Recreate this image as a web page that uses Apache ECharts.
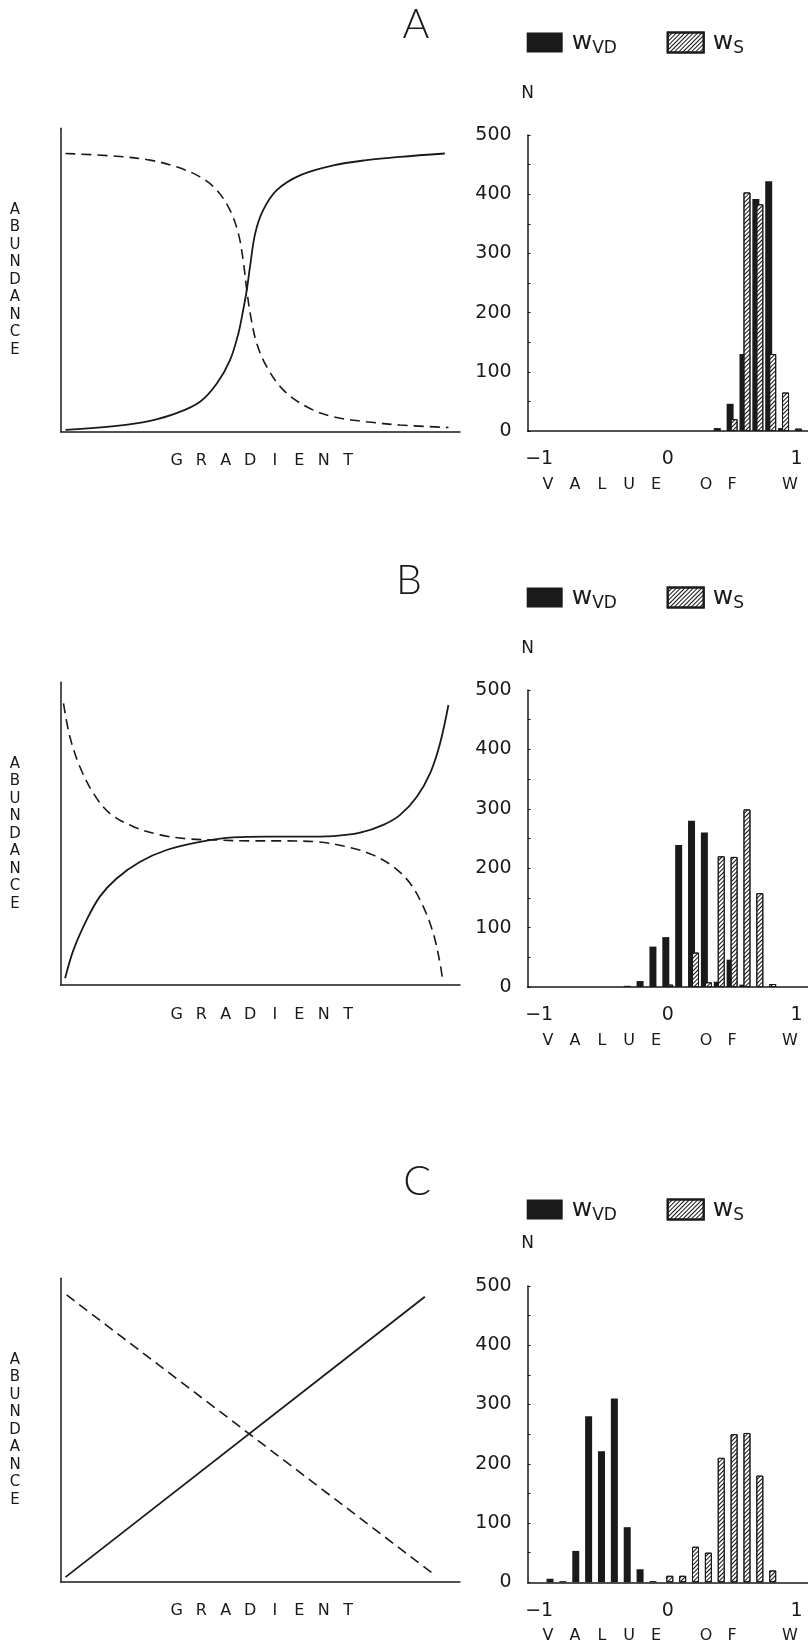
<!DOCTYPE html>
<html>
<head>
<meta charset="utf-8">
<script src="https://cdn.jsdelivr.net/npm/echarts@6/dist/echarts.min.js"></script>
<style>
html,body{margin:0;padding:0;background:#fff;}
#chart{width:808px;height:1651px;}
</style>
</head>
<body>
<div id="chart"></div>
<script>
// ---------------- data ----------------
const panelLabels = ['A', 'B', 'C'];
const legendNames = ['wVD', 'wS'];
const histXTicks = [-1, 0, 1];
const histYTicks = [0, 100, 200, 300, 400, 500];

// left panels: abundance along gradient (gradient 0-100, abundance 0-100)
const aSolid = [[1.2,0.6],[14.0,1.9],[22.4,3.6],[29.0,6.1],[34.9,9.9],[39.1,15.9],[42.4,23.6],[44.5,32.4],[45.7,40.1],[46.6,46.7],[47.4,54.3],[48.7,65.3],[50.7,73.0],[54.1,79.6],[59.9,84.5],[68.3,87.8],[76.6,89.5],[85.0,90.6],[96.2,91.7]];
const aDashed = [[1.2,91.7],[14.0,90.8],[22.4,89.5],[29.0,87.3],[34.9,84.0],[39.1,79.6],[42.4,73.0],[44.5,65.3],[45.7,56.5],[46.6,46.7],[47.6,37.9],[49.1,29.1],[51.6,21.4],[55.8,13.7],[61.6,8.2],[68.3,4.9],[76.6,3.3],[85.0,2.2],[97.1,1.4]];
const bSolid = [[1.1,2.2],[3.2,11.6],[6.5,21.5],[9.8,29.2],[14.0,35.2],[19.9,40.7],[26.5,44.6],[34.9,47.3],[43.2,48.8],[51.6,49.0],[59.9,49.0],[68.3,49.2],[75.0,50.3],[80.8,52.9],[85.0,56.2],[89.2,62.2],[92.5,69.9],[95.0,79.8],[97.1,92.5]];
const bDashed = [[0.7,93.0],[2.3,82.0],[4.8,72.1],[8.2,63.3],[12.3,56.7],[18.2,52.3],[24.9,49.6],[31.6,48.3],[39.1,47.9],[47.4,47.6],[55.7,47.6],[64.1,47.3],[72.5,45.4],[78.3,42.9],[83.3,39.1],[87.5,33.6],[90.8,25.9],[93.3,17.1],[95.0,7.2],[95.7,1.1]];
const cSolid = [[1.2,1.5],[91.2,93.9]];
const cDashed = [[1.5,94.5],[93.7,2.2]];

// right panels: histograms of w, [bin centre, N]
const aVd = [[0.4,5],[0.5,46],[0.6,130],[0.7,392],[0.8,422],[0.9,5]];
const aS  = [[0.5,20],[0.6,403],[0.7,383],[0.8,130],[0.9,65],[1.0,4]];
const bVd = [[-0.3,2],[-0.2,10],[-0.1,68],[0,84],[0.1,239],[0.2,280],[0.3,260],[0.4,9],[0.5,46],[0.6,4]];
const bS  = [[0,4],[0.2,58],[0.3,8],[0.4,220],[0.5,219],[0.6,299],[0.7,158],[0.8,5]];
const cVd = [[-0.9,6],[-0.8,2],[-0.7,53],[-0.6,280],[-0.5,221],[-0.4,310],[-0.3,93],[-0.2,22],[-0.1,2]];
const cS  = [[0,11],[0.1,11],[0.2,60],[0.3,50],[0.4,210],[0.5,250],[0.6,252],[0.7,180],[0.8,20]];

// ---------------- layout ----------------
const FONT = '"DejaVu Sans", sans-serif';
const INK = '#1a1a1a';
const layout = [
  {solid:aSolid, dashed:aDashed, vd:aVd, s:aS, lTop:128.3, lBot:431.7, hTop:135, hBot:431, tx:416, ty:25, legTop:30, nY:94},
  {solid:bSolid, dashed:bDashed, vd:bVd, s:bS, lTop:682.3, lBot:985, hTop:690, hBot:987, tx:409, ty:581, legTop:585, nY:649},
  {solid:cSolid, dashed:cDashed, vd:cVd, s:cS, lTop:1278.3, lBot:1581.7, hTop:1286, hBot:1582.3, tx:417, ty:1182, legTop:1197, nY:1244}
];

const grid = [], xAxis = [], yAxis = [], series = [], legend = [], graphic = [];
const axisLine = {show:true, onZero:false, lineStyle:{color:INK, width:1.5}};
const tickVals = [];
for (let v = 0; v <= 500; v += 50) tickVals.push(v);

const hatch = {
  symbol:'rect', symbolSize:1, color:'#111',
  dashArrayX:[1,0], dashArrayY:[1,2], rotation:-Math.PI/4
};

const valueLetters = 'VALUEOFW'.split('');
const valueLetterX = [548, 575, 602, 629, 656, 706, 732, 790];
const gradLetters = 'GRADIENT'.split('');
const abLetters = 'ABUNDANCE'.split('');

layout.forEach((p, i) => {
  grid.push({left:60.7, top:p.lTop, width:399.3, height:p.lBot - p.lTop});
  grid.push({left:527.6, top:p.hTop, width:281.2, height:p.hBot - p.hTop});

  xAxis.push({gridIndex:2*i, type:'value', min:0, max:100, axisLine, axisTick:{show:false}, axisLabel:{show:false}, splitLine:{show:false}});
  yAxis.push({gridIndex:2*i, type:'value', min:0, max:100, axisLine, axisTick:{show:false}, axisLabel:{show:false}, splitLine:{show:false}});

  xAxis.push({gridIndex:2*i+1, type:'value', min:-1.09, max:1.09, axisLine,
    axisTick:{show:false},
    axisLabel:{customValues:histXTicks, fontFamily:FONT, fontSize:19, color:INK, margin:19,
      formatter:v => (v < 0 ? '\u2212' + Math.abs(v) : String(v))},
    splitLine:{show:false}});
  yAxis.push({gridIndex:2*i+1, type:'value', min:0, max:500, interval:100, axisLine,
    axisTick:{show:true, inside:true, length:3, customValues:tickVals, lineStyle:{color:INK, width:1}},
    axisLabel:{customValues:histYTicks, fontFamily:FONT, fontSize:19, color:INK, margin:16},
    splitLine:{show:false}});

  series.push({type:'line', xAxisIndex:2*i, yAxisIndex:2*i, data:p.solid, symbol:'none', smooth:0.35,
    lineStyle:{color:INK, width:1.8}, silent:true});
  series.push({type:'line', xAxisIndex:2*i, yAxisIndex:2*i, data:p.dashed, symbol:'none', smooth:0.35,
    lineStyle:{color:INK, width:1.6, type:[10,6]}, silent:true});

  series.push({type:'bar', name:'wVD', xAxisIndex:2*i+1, yAxisIndex:2*i+1, data:p.vd,
    barWidth:7, barGap:'-43%', itemStyle:{color:INK}, silent:true});
  series.push({type:'bar', name:'wS', xAxisIndex:2*i+1, yAxisIndex:2*i+1, data:p.s,
    barWidth:7, barGap:'-43%', itemStyle:{color:'#fff', borderColor:INK, borderWidth:1, decal:hatch}, silent:true});

  const legendText = {
    rich:{
      w:{fontFamily:FONT, fontSize:25, color:INK, lineHeight:30, verticalAlign:'middle', padding:[0,0,0,4]},
      s:{fontFamily:FONT, fontSize:17, color:INK, lineHeight:30, verticalAlign:'bottom'}
    }
  };
  legendNames.forEach((nm, k) => {
    legend.push({data:[nm], left:k === 0 ? 526.7 : 666.7, top:p.legTop, padding:0,
      itemWidth:36, itemHeight:20, icon:'rect', selectedMode:false,
      formatter:n => '{w|w}{s|' + (n === 'wVD' ? 'VD' : 'S') + '}',
      textStyle:legendText});
  });

  graphic.push({type:'text', x:p.tx, y:p.ty, style:{text:panelLabels[i], fontFamily:'Lato, "DejaVu Sans", sans-serif', fontWeight:300, fontSize:41, fill:INK, align:'center', verticalAlign:'middle'}});
  graphic.push({type:'text', x:527.5, y:p.nY, style:{text:'N', fontFamily:FONT, fontSize:17, fill:INK, align:'center', verticalAlign:'middle'}});
  valueLetters.forEach((ch, k) => {
    graphic.push({type:'text', x:valueLetterX[k], y:p.hBot + 54, style:{text:ch, fontFamily:FONT, fontSize:16, fill:INK, align:'center', verticalAlign:'middle'}});
  });
  gradLetters.forEach((ch, k) => {
    graphic.push({type:'text', x:262.5 + (k - 3.5) * 24.5, y:p.lBot + 29.5, style:{text:ch, fontFamily:FONT, fontSize:16, fill:INK, align:'center', verticalAlign:'middle'}});
  });
  const mid = (p.lTop + p.lBot) / 2;
  abLetters.forEach((ch, k) => {
    graphic.push({type:'text', x:15, y:mid + (k - 4) * 17.5, style:{text:ch, fontFamily:FONT, fontSize:15, fill:INK, align:'center', verticalAlign:'middle'}});
  });
});

const chart = echarts.init(document.getElementById('chart'), null, {renderer:'canvas'});
chart.setOption({
  backgroundColor:'#fff',
  animation:false,
  grid, xAxis, yAxis, series, legend, graphic
});
</script>
</body>
</html>
